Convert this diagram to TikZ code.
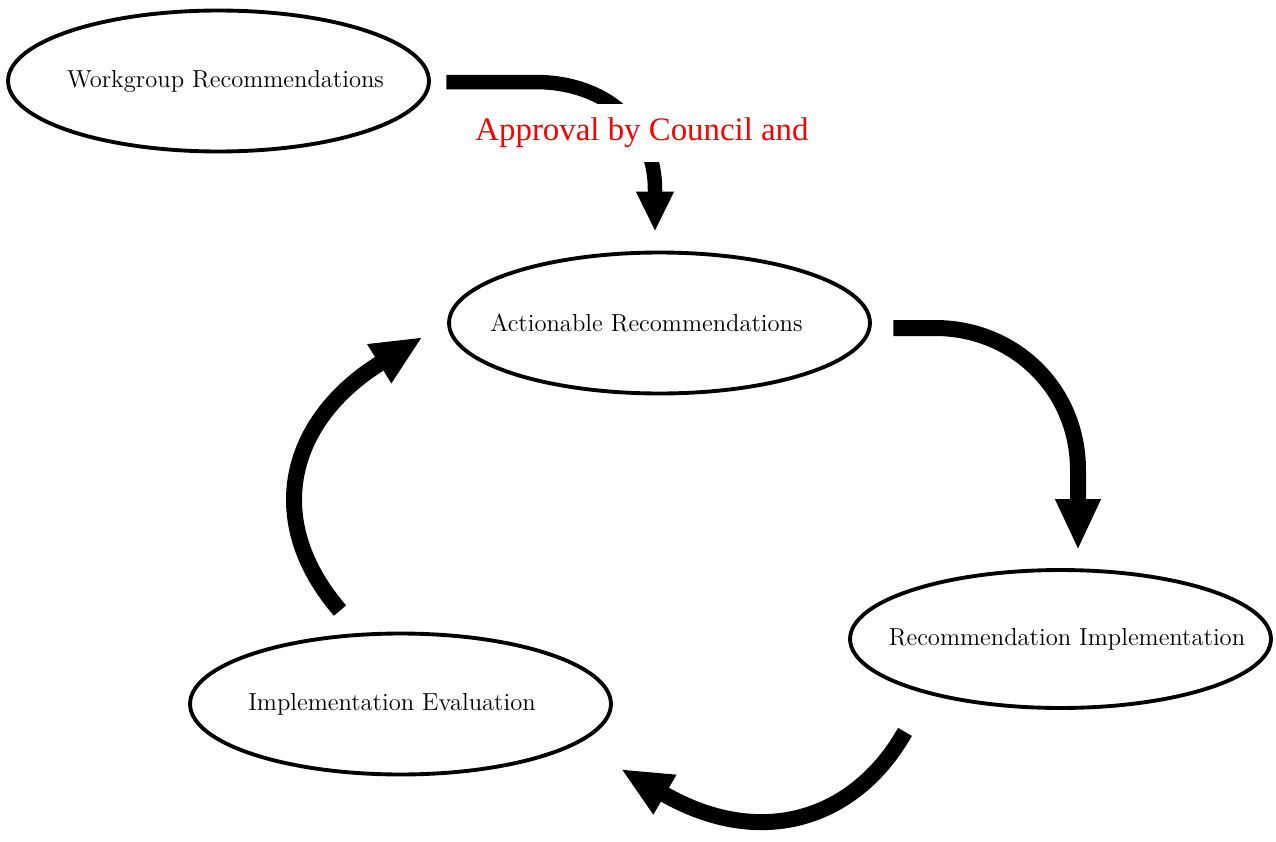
\documentclass[tikz,border=0pt]{standalone}
\usepackage{fontspec}
\newfontfamily\notefont{Liberation Serif}
\usetikzlibrary{arrows.meta,shapes.geometric}
% text that does not widen the ellipse, shifted by #1/2
\newcommand\steplabel[2]{\makebox[0pt]{\hspace*{#1}#2}}

\begin{document}
\begin{tikzpicture}[x=0.02cm,y=-0.02cm,
    step node/.style={ellipse,draw,line width=2.2pt,inner sep=0pt,
      font=\fontsize{14}{16}\selectfont,minimum width=8.42cm,minimum height=2.82cm},
    note node/.style={rectangle,fill=white,text=red,
      font=\notefont\fontsize{18.7}{22}\selectfont,minimum height=1.16cm,inner xsep=2pt},
    flow/.style={line width=0.32cm,-{Triangle[width=0.84cm,length=1.02cm]}}]
    \useasboundingbox (0,0) rectangle (1276,842);

    \node[step node] (WR) at (218.5,81) {\steplabel{0.28cm}{Workgroup Recommendations}};
    \node[step node] (AR) at (659.5,323) {\steplabel{-0.52cm}{Actionable Recommendations}};
    \node[step node,minimum height=2.76cm] (RI) at (1060.5,639) {\steplabel{0.26cm}{Recommendation Implementation}};
    \node[step node] (IE) at (400.5,704) {\steplabel{-0.34cm}{Implementation Evaluation}};

    % approval step, partly hidden under the note
    \draw[flow,line width=0.29cm,-{Triangle[width=0.7cm,length=0.8cm]}]
      ([shift={(15.5,1)}]WR.east) -- (535,82)
      .. controls (605,82) and (655,125) .. (655,190)
      -- ([shift={(-4.5,-19)}]AR.north);
    \node[note node] (AP) at (642,133) {Approval by Council and};

    % the cycle
    \draw[flow] ([shift={(21.5,5)}]AR.east) -- (935,328)
      .. controls (1015,328) and (1078,390) .. (1078,470)
      -- ([shift={(17.5,-18)}]RI.north);
    \draw[flow] ([shift={(-155.5,22)}]RI.south)
      .. controls (855,820) and (760,850) .. ([shift={(8,65)}]IE.east);
    \draw[flow] ([shift={(-60.5,-21)}]IE.north)
      .. controls (262,520) and (288,420) .. ([shift={(-24.5,14)}]AR.west);
  \end{tikzpicture}
\end{document}
